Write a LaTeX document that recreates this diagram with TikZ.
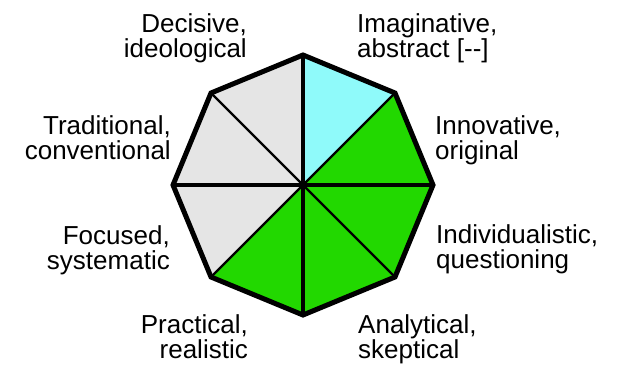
\documentclass[tikz,border=0pt]{standalone}
\usepackage{fontspec}
\setmainfont{Liberation Sans}
\definecolor{cyanfill}{HTML}{8FFAFA}
\definecolor{greenfill}{HTML}{22D800}
\definecolor{grayfill}{HTML}{E5E5E5}
\tikzset{
  lbl/.style={inner sep=0pt, font=\fontsize{26}{22}\selectfont},
  sector/.style={draw=none},
  axisspoke/.style={line width=4pt},
  diagspoke/.style={line width=2.4pt},
  rim/.style={line width=5pt, line join=miter}
}
\begin{document}
\begin{tikzpicture}[x=1pt,y=-1pt]
\useasboundingbox (0,0) rectangle (623,365);
\coordinate (c) at (303,185);
\coordinate (v0) at (303,55);
\coordinate (v1) at (395,93);
\coordinate (v2) at (433,185);
\coordinate (v3) at (395,277);
\coordinate (v4) at (303,315);
\coordinate (v5) at (211,277);
\coordinate (v6) at (173,185);
\coordinate (v7) at (211,93);
% sectors
\fill[cyanfill] (c) -- (v0) -- (v1) -- cycle;
\fill[greenfill] (c) -- (v1) -- (v2) -- cycle;
\fill[greenfill] (c) -- (v2) -- (v3) -- cycle;
\fill[greenfill] (c) -- (v3) -- (v4) -- cycle;
\fill[greenfill] (c) -- (v4) -- (v5) -- cycle;
\fill[grayfill] (c) -- (v5) -- (v6) -- cycle;
\fill[grayfill] (c) -- (v6) -- (v7) -- cycle;
\fill[grayfill] (c) -- (v7) -- (v0) -- cycle;
% spokes
\draw[axisspoke] (v0) -- (v4);
\draw[axisspoke] (v2) -- (v6);
\draw[diagspoke] (v1) -- (v5);
\draw[diagspoke] (v3) -- (v7);
% rim
\draw[rim] (v0) -- (v1) -- (v2) -- (v3) -- (v4) -- (v5) -- (v6) -- (v7) -- cycle;
% labels
\node[lbl, anchor=base east] (dec) at (247,32) {\begin{tabular}[t]{@{}r@{}}Decisive,\\ideological\end{tabular}};
\node[lbl, anchor=base west] (img) at (357,32) {\begin{tabular}[t]{@{}l@{}}Imaginative,\\abstract [-{}-]\end{tabular}};
\node[lbl, anchor=base east] (trad) at (171,134) {\begin{tabular}[t]{@{}r@{}}Traditional,\\conventional\end{tabular}};
\node[lbl, anchor=base west] (inn) at (435,134) {\begin{tabular}[t]{@{}l@{}}Innovative,\\original\end{tabular}};
\node[lbl, anchor=base east] (foc) at (170,244) {\begin{tabular}[t]{@{}r@{}}Focused,\\systematic\end{tabular}};
\node[lbl, anchor=base west] (ind) at (436,243) {\begin{tabular}[t]{@{}l@{}}Individualistic,\\questioning\end{tabular}};
\node[lbl, anchor=base east] (prac) at (248,333) {\begin{tabular}[t]{@{}r@{}}Practical,\\realistic\end{tabular}};
\node[lbl, anchor=base west] (ana) at (358,333) {\begin{tabular}[t]{@{}l@{}}Analytical,\\skeptical\end{tabular}};
\end{tikzpicture}
\end{document}
